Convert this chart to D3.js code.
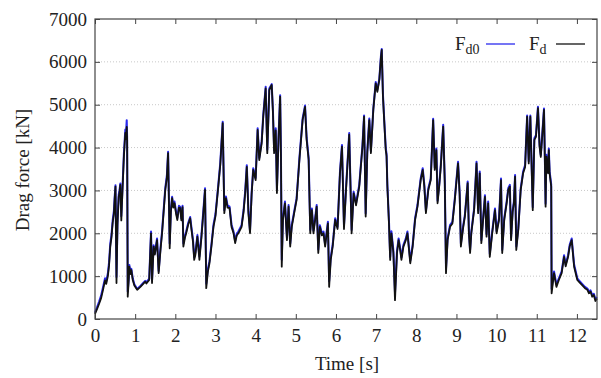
<!DOCTYPE html>
<html>
<head>
<meta charset="utf-8">
<script src="https://cdn.jsdelivr.net/npm/d3@7/dist/d3.min.js"></script>
<style>
  html, body { margin: 0; padding: 0; background: #fff; }
  svg text { font-family: "Liberation Serif", "Times New Roman", serif; }
</style>
</head>
<body>
<svg id="chart" width="601" height="378"></svg>
<script>
// Time axis samples [s]
const time = [
  0.00,0.05,0.10,0.15,0.20,0.25,0.28,0.32,0.35,0.38,0.41,0.44,0.47,0.49,0.51,0.535,0.56,0.59,0.61,0.63,
  0.655,0.68,0.72,0.755,0.77,0.79,0.80,0.815,0.84,0.855,0.88,0.905,0.94,0.98,1.05,1.13,1.20,1.25,1.28,1.35,
  1.395,1.42,1.46,1.49,1.545,1.585,1.63,1.67,1.75,1.79,1.82,1.86,1.89,1.92,1.95,1.98,2.02,2.05,2.09,2.12,
  2.15,2.18,2.20,2.24,2.27,2.32,2.37,2.40,2.44,2.47,2.50,2.55,2.60,2.65,2.70,2.74,2.77,2.81,2.85,2.90,
  2.95,3.00,3.07,3.12,3.18,3.22,3.26,3.30,3.35,3.40,3.45,3.49,3.53,3.57,3.65,3.70,3.74,3.78,3.82,3.86,
  3.90,3.94,4.00,4.05,4.09,4.15,4.19,4.25,4.29,4.34,4.40,4.43,4.46,4.50,4.53,4.57,4.61,4.63,4.65,4.68,
  4.73,4.78,4.82,4.86,4.90,4.96,5.02,5.09,5.17,5.23,5.27,5.32,5.36,5.40,5.44,5.48,5.52,5.56,5.60,5.65,
  5.69,5.73,5.80,5.83,5.87,5.92,5.98,6.04,6.10,6.15,6.20,6.25,6.33,6.39,6.44,6.50,6.58,6.66,6.70,6.74,
  6.78,6.83,6.87,6.93,6.99,7.03,7.08,7.12,7.14,7.17,7.20,7.24,7.26,7.28,7.32,7.35,7.38,7.43,7.47,7.52,
  7.56,7.60,7.63,7.68,7.74,7.78,7.85,7.91,7.97,8.03,8.07,8.11,8.16,8.20,8.24,8.30,8.36,8.42,8.46,8.50,
  8.53,8.57,8.61,8.67,8.71,8.74,8.78,8.84,8.90,8.96,9.04,9.08,9.11,9.17,9.21,9.28,9.31,9.34,9.37,9.44,
  9.50,9.54,9.58,9.62,9.67,9.71,9.75,9.79,9.83,9.89,9.96,10.00,10.06,10.11,10.14,10.19,10.25,10.29,10.33,10.36,
  10.40,10.43,10.46,10.49,10.54,10.60,10.66,10.71,10.76,10.80,10.84,10.90,10.94,10.98,11.03,11.07,11.10,11.13,11.18,11.20,
  11.22,11.24,11.28,11.30,11.32,11.36,11.37,11.43,11.49,11.55,11.62,11.68,11.72,11.78,11.82,11.87,11.93,12.01,12.07,12.13,
  12.20,12.26,12.30,12.34,12.38,12.42,12.46,12.50
];

// Drag force F_d [kN]
const dragFd = [
  120,230,350,480,680,900,820,1000,1250,1690,1900,2240,2450,2800,3090,840,2200,2850,2950,3130,
  2300,2900,3800,4340,4200,4480,4200,520,900,1220,1050,1140,910,780,680,750,820,870,830,910,
  2000,840,1690,1500,1840,1070,1600,2000,3010,3300,3870,1650,2500,2820,2600,2700,2450,2310,2600,2590,
  2300,2610,1690,1900,2000,2200,2350,2100,1800,1380,1500,1920,1380,1900,2500,3010,720,1100,1300,1700,
  2150,2400,3090,3600,4570,2470,2820,2600,2590,2150,2000,1770,1950,2000,2150,2500,2940,3550,2470,2000,
  2900,3480,3240,4410,3710,4100,4720,5380,3870,5340,5460,4830,3870,4400,2940,4200,5190,3800,1220,2310,
  2700,1840,2620,1690,2150,2470,2780,3710,4640,4950,4180,3710,2000,2540,2000,2300,2620,1540,2150,1950,
  2000,1690,2230,750,1380,1700,2310,2100,3400,4020,2100,3000,4300,2000,2930,2650,3090,4020,4720,2390,
  3870,4640,3870,4880,5500,5300,5580,6110,6280,5190,4640,3940,3800,3090,2230,1380,2000,1540,440,1540,
  1840,1600,1380,1690,1840,2000,1300,1690,2310,2620,2930,3240,3480,3090,2470,3010,3240,4640,3480,3940,
  2700,3090,3550,4490,3170,1070,1840,2150,2230,2780,3630,2900,1690,2150,2390,3170,2000,1540,2000,2540,
  3630,2470,3400,1770,2390,2850,1920,2700,1450,2000,2540,2000,2310,3240,1540,2310,2700,3010,3090,1840,
  2500,2700,3320,1610,2080,3010,3400,3550,4720,3630,4720,2540,4180,4250,4920,4020,3780,4180,4880,3790,
  2620,3790,3400,3940,3400,3090,600,1070,750,910,1070,1450,1230,1450,1690,1840,1220,910,850,790,
  720,680,600,640,520,560,420,480
];

// Reference drag force F_d0 [kN]
const dragFd0 = [
  150,270,400,540,740,950,880,1060,1320,1760,1960,2300,2520,2850,3120,980,2260,2900,3000,3160,
  2400,2960,3880,4420,4300,4640,4260,640,960,1260,1100,1170,950,810,700,770,840,890,860,940,
  2040,900,1720,1540,1880,1120,1650,2050,3060,3350,3900,1760,2560,2850,2650,2740,2500,2360,2640,2620,
  2350,2640,1760,1940,2040,2240,2380,2150,1860,1440,1550,1960,1460,1950,2560,3050,820,1160,1350,1750,
  2200,2450,3130,3650,4600,2540,2860,2650,2620,2200,2040,1820,1990,2040,2190,2550,2990,3590,2540,2060,
  2950,3520,3290,4450,3760,4150,4770,5420,3950,5380,5480,4880,3940,4450,3020,4260,5220,3880,1380,2360,
  2740,1900,2660,1760,2200,2510,2820,3760,4680,4980,4230,3760,2080,2580,2060,2340,2660,1620,2190,2000,
  2040,1750,2270,880,1440,1750,2350,2150,3440,4060,2180,3050,4340,2080,2970,2700,3130,4060,4750,2460,
  3910,4680,3920,4910,5530,5340,5610,6140,6300,5240,4690,3990,3850,3140,2290,1450,2050,1600,620,1590,
  1880,1650,1440,1730,1880,2040,1360,1730,2350,2660,2970,3280,3520,3140,2530,3050,3280,4670,3530,3980,
  2760,3130,3590,4530,3220,1180,1880,2190,2270,2820,3670,2950,1760,2190,2430,3210,2060,1610,2040,2580,
  3670,2530,3440,1840,2430,2890,1980,2740,1520,2040,2580,2050,2350,3280,1610,2350,2740,3050,3130,1900,
  2540,2740,3360,1690,2120,3050,3440,3590,4750,3680,4750,2610,4220,4290,4950,4070,3830,4220,4910,3850,
  2690,3830,3450,3980,3450,3140,700,1110,800,950,1110,1490,1270,1490,1730,1880,1270,950,880,820,
  750,710,640,670,560,590,470,510
];

const yTicks = [0, 1000, 2000, 3000, 4000, 5000, 6000, 7000];
const xTicks = [0, 1, 2, 3, 4, 5, 6, 7, 8, 9, 10, 11, 12];
const gridLevels = [1000, 2000, 3000, 4000, 5000, 6000];

const plot = { left: 95, right: 597, top: 19, bottom: 319 };

const x = d3.scaleLinear().domain([0, 12.5]).range([plot.left, plot.right]);
const y = d3.scaleLinear().domain([0, 7000]).range([plot.bottom, plot.top]);

const svg = d3.select("#chart");
const serif = '"Liberation Serif", "Times New Roman", serif';
const fontSize = 19;

// dotted horizontal grid
svg.append("g")
  .selectAll("line")
  .data(gridLevels)
  .join("line")
  .attr("x1", plot.left).attr("x2", plot.right)
  .attr("y1", d => y(d)).attr("y2", d => y(d))
  .attr("stroke", "#c8c8c8")
  .attr("stroke-width", 1)
  .attr("stroke-dasharray", "1,2");

// inward ticks on all four sides
const tickLen = 5;
const axisColor = "#444";
const bottomAxis = d3.axisBottom(x).tickValues(xTicks).tickSize(-tickLen).tickPadding(10).tickFormat(d3.format("d"));
const topAxis = d3.axisTop(x).tickValues(xTicks).tickSize(-tickLen).tickFormat("");
const leftAxis = d3.axisLeft(y).tickValues(yTicks).tickSize(-tickLen).tickPadding(8).tickFormat(d3.format("d"));
const rightAxis = d3.axisRight(y).tickValues(yTicks).tickSize(-tickLen).tickFormat("");

function styleAxis(g) {
  g.attr("font-family", serif).attr("font-size", fontSize);
  g.select(".domain").remove();
  g.selectAll(".tick line").attr("stroke", axisColor).attr("stroke-width", 1);
  g.selectAll(".tick text").attr("fill", "#222");
}

svg.append("g").attr("transform", `translate(0,${plot.bottom})`).call(bottomAxis).call(styleAxis);
svg.append("g").attr("transform", `translate(0,${plot.top})`).call(topAxis).call(styleAxis);
svg.append("g").attr("transform", `translate(${plot.left},0)`).call(leftAxis).call(styleAxis);
svg.append("g").attr("transform", `translate(${plot.right},0)`).call(rightAxis).call(styleAxis);

// series
const line = d3.line().x(d => x(d[0])).y(d => y(d[1]));
const seriesFd0 = time.map((t, i) => [t, dragFd0[i]]);
const seriesFd = time.map((t, i) => [t, dragFd[i]]);

svg.append("path")
  .datum(seriesFd0)
  .attr("fill", "none")
  .attr("stroke", "#2a2aee")
  .attr("stroke-width", 2)
  .attr("stroke-linejoin", "round")
  .attr("d", line);

svg.append("path")
  .datum(seriesFd)
  .attr("fill", "none")
  .attr("stroke", "#111")
  .attr("stroke-width", 1.8)
  .attr("stroke-linejoin", "round")
  .attr("d", line);

// plot frame
svg.append("rect")
  .attr("x", plot.left).attr("y", plot.top)
  .attr("width", plot.right - plot.left).attr("height", plot.bottom - plot.top)
  .attr("fill", "none").attr("stroke", axisColor).attr("stroke-width", 1.2);

// legend
const legend = svg.append("g")
  .attr("font-family", serif)
  .attr("font-size", fontSize)
  .attr("fill", "#222");
const legendItems = [
  { base: "F", sub: "d0", color: "#2a2aee", tx: 455, lx1: 486, lx2: 515 },
  { base: "F", sub: "d", color: "#111", tx: 529, lx1: 556, lx2: 585 }
];
legendItems.forEach(it => {
  const t = legend.append("text").attr("x", it.tx).attr("y", 50);
  t.append("tspan").text(it.base);
  t.append("tspan").attr("dy", 4).attr("font-size", 14).text(it.sub);
  legend.append("line")
    .attr("x1", it.lx1).attr("x2", it.lx2)
    .attr("y1", 44).attr("y2", 44)
    .attr("stroke", it.color).attr("stroke-width", 1.3);
});

// axis titles
svg.append("text")
  .attr("x", 347).attr("y", 370)
  .attr("text-anchor", "middle")
  .attr("font-family", serif)
  .attr("font-size", fontSize)
  .attr("fill", "#222")
  .text("Time [s]");

svg.append("text")
  .attr("transform", "translate(29,170) rotate(-90)")
  .attr("text-anchor", "middle")
  .attr("font-family", serif)
  .attr("font-size", fontSize)
  .attr("fill", "#222")
  .text("Drag force [kN]");
</script>
</body>
</html>
